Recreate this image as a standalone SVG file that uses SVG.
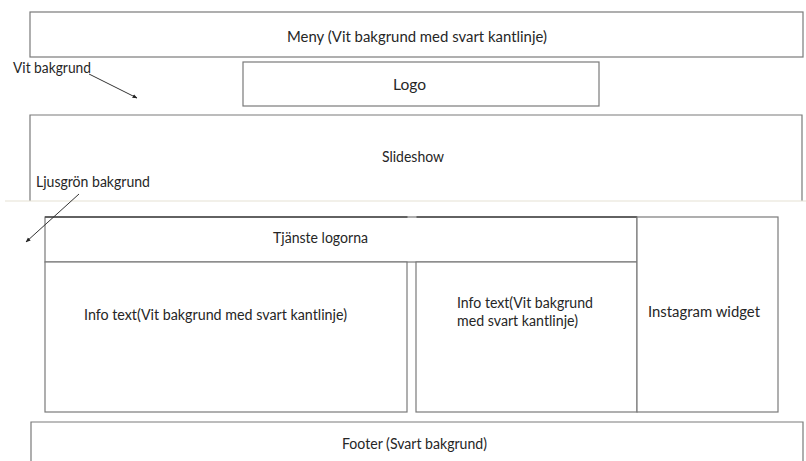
<svg xmlns="http://www.w3.org/2000/svg" width="806" height="461" viewBox="0 0 806 461">
<defs>
<marker id="ah" viewBox="0 0 10 10" refX="9" refY="5" markerWidth="5" markerHeight="5" orient="auto">
<path d="M0,1 L10,5 L0,9 z" fill="#222"/>
</marker>
<style>
.box{fill:#fff;stroke:#7a7a7a;stroke-width:1.2}
.t{font-family:Lato,"Liberation Sans",Arial,sans-serif;font-size:15.5px;fill:#262626}
.arr{stroke:#333;stroke-width:1;fill:none;marker-end:url(#ah)}
</style>
</defs>
<rect width="806" height="461" fill="#fff"/>
<g id="meny"><rect class="box" x="30" y="12" width="773" height="45"/><text class="t" x="287" y="42" textLength="260" lengthAdjust="spacingAndGlyphs">Meny (Vit bakgrund med svart kantlinje)</text></g>
<g id="logo"><rect class="box" x="243" y="62" width="356" height="44"/><text class="t" x="393" y="90" textLength="33" lengthAdjust="spacingAndGlyphs">Logo</text></g>
<g id="slideshow"><path class="box" d="M30,201 V115 H802 V201" fill="none"/><text class="t" x="382" y="162" textLength="62" lengthAdjust="spacingAndGlyphs">Slideshow</text></g>
<line x1="5" y1="201" x2="806" y2="201" stroke="#e6e2d4" stroke-width="1.2"/>
<g id="vit-label"><text class="t" x="13" y="73" textLength="78" lengthAdjust="spacingAndGlyphs">Vit bakgrund</text></g>
<g id="ljus-label"><text class="t" x="36" y="187" textLength="114" lengthAdjust="spacingAndGlyphs">Ljusgrön bakgrund</text></g>
<g id="tjanste"><rect class="box" x="45" y="217" width="592" height="45"/><path d="M45,217 H407.5 M416.5,217 H637" stroke="#4a4a4a" stroke-width="1.6"/><text class="t" x="273" y="243" textLength="95" lengthAdjust="spacingAndGlyphs">Tjänste logorna</text></g>
<g id="info1"><rect class="box" x="45" y="262" width="362" height="150"/><text class="t" x="84" y="320" textLength="263" lengthAdjust="spacingAndGlyphs">Info text(Vit bakgrund med svart kantlinje)</text></g>
<g id="info2"><rect class="box" x="416" y="262" width="221" height="150"/><text class="t" x="457" y="308" textLength="136" lengthAdjust="spacingAndGlyphs">Info text(Vit bakgrund</text><text class="t" x="457" y="326" textLength="121" lengthAdjust="spacingAndGlyphs">med svart kantlinje)</text></g>
<g id="instagram"><rect class="box" x="637" y="217" width="141" height="195"/><text class="t" x="648" y="317" textLength="112" lengthAdjust="spacingAndGlyphs">Instagram widget</text></g>
<g id="footer"><path class="box" d="M31,462 V422 H803 V462"/><text class="t" x="342" y="449" textLength="145" lengthAdjust="spacingAndGlyphs">Footer (Svart bakgrund)</text></g>
<g id="connectors">
<line class="arr" x1="89" y1="74" x2="137" y2="98"/>
<line class="arr" x1="79" y1="194" x2="26" y2="242"/>
</g>
</svg>
